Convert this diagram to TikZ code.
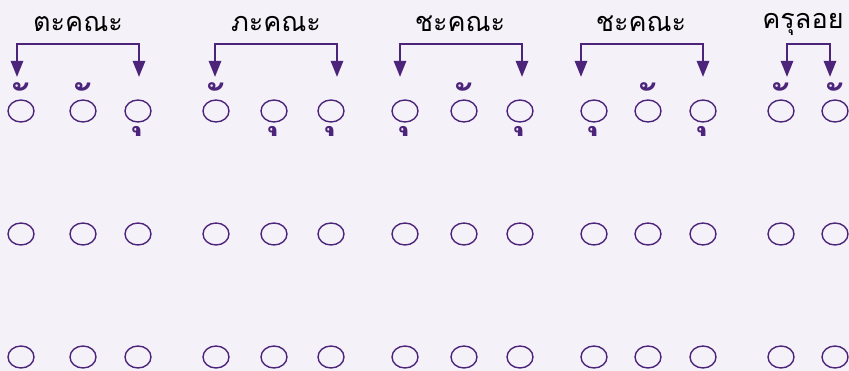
\documentclass[tikz,border=0pt]{standalone}
\usepackage{fontspec}
\newfontfamily\thaifont[Script=Thai]{Loma}
\usetikzlibrary{positioning,arrows.meta,shapes.geometric}
\definecolor{bgtint}{RGB}{244,241,248}
\definecolor{verse}{RGB}{76,36,122}
\tikzset{
  syl/.style={ellipse,draw=verse,line width=1.4pt,minimum width=26pt,minimum height=22pt,inner sep=0pt},
  khru/.style={text=verse,font=\thaifont\bfseries\fontsize{42}{46}\selectfont,inner sep=0pt},
  lahu/.style={text=verse,font=\thaifont\bfseries\fontsize{46}{50}\selectfont,inner sep=0pt},
  ganalabel/.style={text=black,font=\thaifont\fontsize{27}{31}\selectfont,inner sep=0pt},
  bracket/.style={{Triangle[width=12pt,length=16pt]}-{Triangle[width=12pt,length=16pt]},draw=verse,line width=2.6pt}
}
\begin{document}
\begin{tikzpicture}[x=1pt,y=-1pt]
  \fill[bgtint] (0,0) rectangle (849,371);
  \useasboundingbox (0,0) rectangle (849,371);
  % syllable rows
  \foreach \x [count=\i] in {21,83,138,216,274,331,405,464,520,594,648,703,781,835} {
    \node[syl] (r1c\i) at (\x,111) {};
    \node[syl] (r2c\i) at (\x,234) {};
    \node[syl] (r3c\i) at (\x,357) {};
  }
  % marks: khru above, lahu below
  \foreach \i in {1,2,4,8,11,13,14}
    \node[khru] (k\i) at ([xshift=2pt,yshift=11.5pt]r1c\i.center) {\char"00A0\char"0E31};
  \foreach \i in {3,5,6,7,9,10,12}
    \node[lahu] (l\i) at ([yshift=-19.5pt]r1c\i.center) {\char"00A0\char"0E38};
  % gana names
  \node[ganalabel] (ta) at (78,24) {ตะคณะ};
  \node[ganalabel] (pha) at (276,24) {ภะคณะ};
  \node[ganalabel] (cha1) at (460,24) {ชะคณะ};
  \node[ganalabel] (cha2) at (641,24) {ชะคณะ};
  \node[ganalabel] (khl) at (803,24) {ครุลอย};
  % brackets
  \coordinate (ta l) at (17,77);   \coordinate (ta r) at (139,77);
  \coordinate (pha l) at (215,77); \coordinate (pha r) at (337,77);
  \coordinate (cha1 l) at (400,77); \coordinate (cha1 r) at (522,77);
  \coordinate (cha2 l) at (581,77); \coordinate (cha2 r) at (703,77);
  \coordinate (khl l) at (787,77); \coordinate (khl r) at (830,77);
  \draw[bracket] (ta l) -- ++(0,-33) -| (ta r);
  \draw[bracket] (pha l) -- ++(0,-33) -| (pha r);
  \draw[bracket] (cha1 l) -- ++(0,-33) -| (cha1 r);
  \draw[bracket] (cha2 l) -- ++(0,-33) -| (cha2 r);
  \draw[bracket] (khl l) -- ++(0,-33) -| (khl r);
\end{tikzpicture}
\end{document}
